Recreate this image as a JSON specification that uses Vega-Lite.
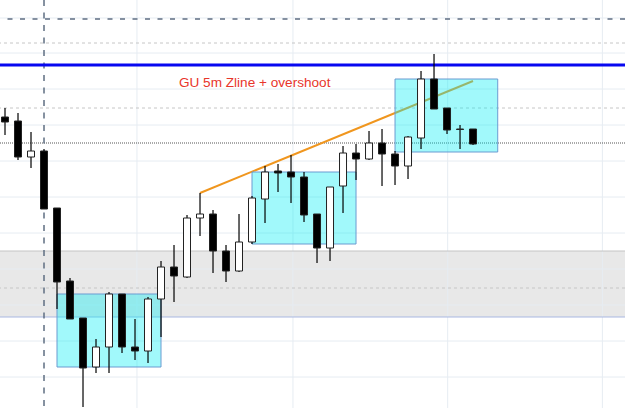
{
  "$schema": "https://vega.github.io/schema/vega-lite/v6.json",
  "width": 625,
  "height": 408,
  "autosize": {"type": "none"},
  "padding": 0,
  "background": "#ffffff",
  "config": {"view": {"stroke": null}},
  "datasets": {
    "candles": [
      {"t": 1, "open": 291, "high": 300, "low": 273, "close": 286},
      {"t": 2, "open": 287, "high": 295, "low": 248, "close": 251},
      {"t": 3, "open": 251, "high": 276, "low": 240, "close": 257},
      {"t": 4, "open": 257, "high": 259, "low": 199, "close": 199},
      {"t": 5, "open": 200, "high": 200, "low": 99, "close": 126},
      {"t": 6, "open": 127, "high": 130, "low": 89, "close": 89},
      {"t": 7, "open": 90, "high": 90, "low": 1, "close": 40},
      {"t": 8, "open": 41, "high": 69, "low": 35, "close": 61},
      {"t": 9, "open": 61, "high": 116, "low": 35, "close": 114},
      {"t": 10, "open": 114, "high": 114, "low": 55, "close": 61},
      {"t": 11, "open": 61, "high": 89, "low": 48, "close": 57},
      {"t": 12, "open": 57, "high": 111, "low": 45, "close": 109},
      {"t": 13, "open": 109, "high": 147, "low": 71, "close": 141},
      {"t": 14, "open": 141, "high": 163, "low": 106, "close": 132},
      {"t": 15, "open": 131, "high": 193, "low": 130, "close": 190},
      {"t": 16, "open": 190, "high": 215, "low": 172, "close": 194},
      {"t": 17, "open": 194, "high": 198, "low": 135, "close": 157},
      {"t": 18, "open": 157, "high": 163, "low": 126, "close": 137},
      {"t": 19, "open": 137, "high": 194, "low": 136, "close": 166},
      {"t": 20, "open": 166, "high": 212, "low": 164, "close": 210},
      {"t": 21, "open": 209, "high": 242, "low": 185, "close": 236},
      {"t": 22, "open": 237, "high": 244, "low": 216, "close": 235},
      {"t": 23, "open": 236, "high": 253, "low": 205, "close": 231},
      {"t": 24, "open": 231, "high": 236, "low": 186, "close": 193},
      {"t": 25, "open": 194, "high": 194, "low": 145, "close": 160},
      {"t": 26, "open": 160, "high": 221, "low": 147, "close": 221},
      {"t": 27, "open": 222, "high": 262, "low": 195, "close": 255},
      {"t": 28, "open": 255, "high": 264, "low": 228, "close": 249},
      {"t": 29, "open": 249, "high": 277, "low": 248, "close": 265},
      {"t": 30, "open": 265, "high": 279, "low": 222, "close": 254},
      {"t": 31, "open": 254, "high": 257, "low": 223, "close": 242},
      {"t": 32, "open": 242, "high": 272, "low": 229, "close": 271},
      {"t": 33, "open": 270, "high": 337, "low": 259, "close": 329},
      {"t": 34, "open": 329, "high": 354, "low": 299, "close": 299},
      {"t": 35, "open": 300, "high": 300, "low": 274, "close": 278},
      {"t": 36, "open": 279, "high": 283, "low": 259, "close": 278.5},
      {"t": 37, "open": 279, "high": 279, "low": 263, "close": 264}
    ],
    "gridH": [{"p": 390}, {"p": 355}, {"p": 319}, {"p": 283}, {"p": 247}, {"p": 211}, {"p": 175}, {"p": 139}, {"p": 103}, {"p": 67}, {"p": 31}],
    "gridV": [{"t": 11.15}, {"t": 23.15}, {"t": 35.05}, {"t": 46.95}],
    "band": [{"lo": 91, "hi": 157}],
    "levels": [
      {"kind": "darkdash", "p": 389},
      {"kind": "lightdash", "p": 365},
      {"kind": "lightdash", "p": 300},
      {"kind": "lightdash", "p": 120},
      {"kind": "dotted", "p": 265},
      {"kind": "blue", "p": 343},
      {"kind": "bandtop", "p": 157},
      {"kind": "bandbottom", "p": 91}
    ],
    "session": [{"t": 4}],
    "trend": [{"t": 16, "p": 215}, {"t": 37, "p": 327}],
    "zones": [
      {"t1": 5, "t2": 13, "lo": 41, "hi": 114},
      {"t1": 20, "t2": 28, "lo": 164, "hi": 236},
      {"t1": 31, "t2": 38.9, "lo": 256, "hi": 329}
    ],
    "note": [{"t": 14.38, "p": 325, "label": "GU 5m Zline + overshoot"}]
  },
  "encoding": {},
  "layer": [
    {
      "data": {"name": "band"},
      "mark": {"type": "rect", "fill": "#e8e8e8"},
      "encoding": {
        "y": {"field": "lo", "type": "quantitative", "scale": {"domain": [0, 408], "nice": false, "zero": false, "padding": 0}, "axis": null},
        "y2": {"field": "hi"}
      }
    },
    {
      "data": {"name": "gridH"},
      "mark": {"type": "rule", "stroke": "#e6ecf2", "strokeWidth": 1},
      "encoding": {"y": {"field": "p", "type": "quantitative"}}
    },
    {
      "data": {"name": "gridV"},
      "mark": {"type": "rule", "stroke": "#e6ecf2", "strokeWidth": 1},
      "encoding": {"x": {"field": "t", "type": "quantitative", "scale": {"domain": [0.615, 48.69], "nice": false, "zero": false, "padding": 0}, "axis": null}}
    },
    {
      "data": {"name": "levels"},
      "transform": [{"filter": "datum.kind === 'bandtop'"}],
      "mark": {"type": "rule", "stroke": "#c4c4c4", "strokeWidth": 1},
      "encoding": {"y": {"field": "p", "type": "quantitative"}}
    },
    {
      "data": {"name": "levels"},
      "transform": [{"filter": "datum.kind === 'bandbottom'"}],
      "mark": {"type": "rule", "stroke": "#a9b8e2", "strokeWidth": 1},
      "encoding": {"y": {"field": "p", "type": "quantitative"}}
    },
    {
      "data": {"name": "levels"},
      "transform": [{"filter": "datum.kind === 'lightdash'"}],
      "mark": {"type": "rule", "stroke": "#c6c6c6", "strokeWidth": 1, "strokeDash": [3, 3]},
      "encoding": {"y": {"field": "p", "type": "quantitative"}}
    },
    {
      "data": {"name": "levels"},
      "transform": [{"filter": "datum.kind === 'dotted'"}],
      "mark": {"type": "rule", "stroke": "#555555", "strokeWidth": 1, "strokeDash": [1, 1]},
      "encoding": {"y": {"field": "p", "type": "quantitative"}}
    },
    {
      "data": {"name": "levels"},
      "transform": [{"filter": "datum.kind === 'darkdash'"}],
      "mark": {"type": "rule", "stroke": "#5f6e82", "strokeWidth": 1.5, "strokeDash": [5, 7.5]},
      "encoding": {"y": {"field": "p", "type": "quantitative"}}
    },
    {
      "data": {"name": "session"},
      "mark": {"type": "rule", "stroke": "#5f6e82", "strokeWidth": 1.5, "strokeDash": [6, 6.5]},
      "encoding": {"x": {"field": "t", "type": "quantitative"}}
    },
    {
      "data": {"name": "trend"},
      "mark": {"type": "line", "stroke": "#f0961e", "strokeWidth": 2},
      "encoding": {
        "x": {"field": "t", "type": "quantitative"},
        "y": {"field": "p", "type": "quantitative"}
      }
    },
    {
      "data": {"name": "zones"},
      "mark": {"type": "rect", "fill": "#00eef5", "fillOpacity": 0.37, "stroke": "#6b9bd1", "strokeWidth": 1},
      "encoding": {
        "x": {"field": "t1", "type": "quantitative"},
        "x2": {"field": "t2"},
        "y": {"field": "lo", "type": "quantitative"},
        "y2": {"field": "hi"}
      }
    },
    {
      "data": {"name": "levels"},
      "transform": [{"filter": "datum.kind === 'blue'"}],
      "mark": {"type": "rule", "stroke": "#0808f0", "strokeWidth": 3},
      "encoding": {"y": {"field": "p", "type": "quantitative"}}
    },
    {
      "data": {"name": "note"},
      "mark": {"type": "text", "font": "Liberation Sans", "fontSize": 13.6, "fill": "#e8352b", "align": "left", "baseline": "middle"},
      "encoding": {
        "x": {"field": "t", "type": "quantitative"},
        "y": {"field": "p", "type": "quantitative"},
        "text": {"field": "label"}
      }
    },
    {
      "data": {"name": "candles"},
      "mark": {"type": "rule", "stroke": "#000000", "strokeWidth": 1.2},
      "encoding": {
        "x": {"field": "t", "type": "quantitative"},
        "y": {"field": "low", "type": "quantitative"},
        "y2": {"field": "high"}
      }
    },
    {
      "data": {"name": "candles"},
      "mark": {"type": "bar", "size": 7, "stroke": "#222222", "strokeWidth": 1},
      "encoding": {
        "x": {"field": "t", "type": "quantitative"},
        "y": {"field": "open", "type": "quantitative"},
        "y2": {"field": "close"},
        "fill": {"condition": {"test": "datum.close < datum.open", "value": "#000000"}, "value": "#ffffff"}
      }
    }
  ]
}
